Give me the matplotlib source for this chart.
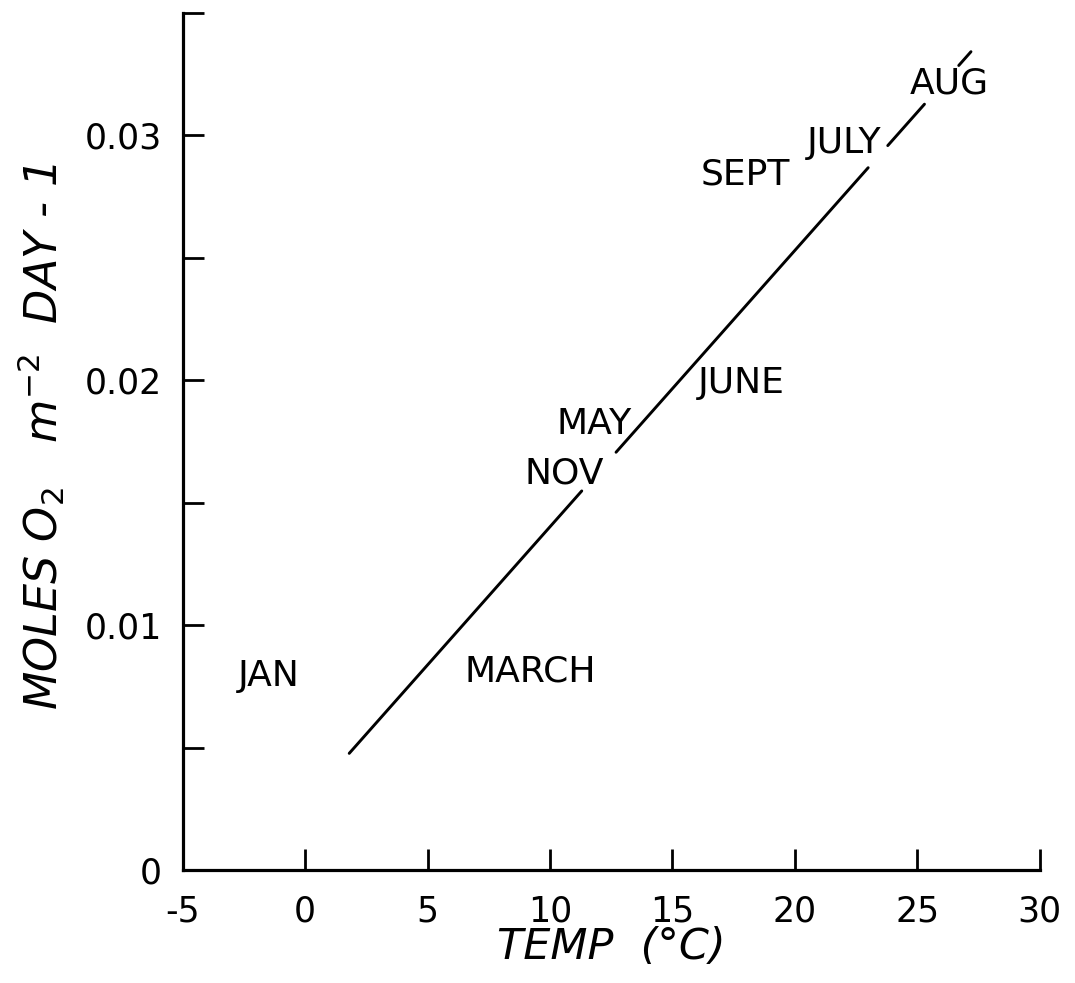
"""Benthic O2 consumption vs. temperature, monthly labels and fitted line."""

import matplotlib
matplotlib.use("Agg")
import matplotlib.pyplot as plt

# ---- data ----
months = ["JAN", "MARCH", "NOV", "MAY", "JUNE", "SEPT", "JULY", "AUG"]
month_temp = [-1.5, 9.2, 10.6, 11.8, 17.8, 18.0, 22.0, 26.3]
month_rate = [0.0079, 0.0081, 0.0162, 0.0182, 0.0199, 0.0284, 0.0297, 0.0321]

# regression line (broken where it runs through labels)
fit_slope = 0.001128
fit_intercept = 0.00273
fit_segments = [(1.8, 11.3), (12.7, 23.0), (23.8, 25.3), (26.7, 27.2)]

x_ticks = [-5, 0, 5, 10, 15, 20, 25, 30]
y_ticks = [0, 0.005, 0.01, 0.015, 0.02, 0.025, 0.03, 0.035]
y_ticklabels = ["0", "", "0.01", "", "0.02", "", "0.03", ""]

plt.rcParams["font.family"] = ["DejaVu Sans"]

fig = plt.figure(figsize=(10.75, 9.83), dpi=100)
ax = fig.add_axes([0.170, 0.115, 0.797, 0.872])

for x0, x1 in fit_segments:
    ax.plot([x0, x1], [fit_intercept + fit_slope * x0, fit_intercept + fit_slope * x1],
            color="black", lw=2.1, solid_capstyle="round")

for name, t, r in zip(months, month_temp, month_rate):
    ax.text(t, r, name, fontsize=26, ha="center", va="center")

ax.set_xlim(-5, 30)
ax.set_ylim(0, 0.035)
ax.set_xticks(x_ticks)
ax.set_xticklabels([str(v) for v in x_ticks])
ax.set_yticks(y_ticks)
ax.set_yticklabels(y_ticklabels)

ax.spines["top"].set_visible(False)
ax.spines["right"].set_visible(False)
for s in ("left", "bottom"):
    ax.spines[s].set_linewidth(2.3)
ax.tick_params(direction="in", length=15, width=2, labelsize=25)
ax.tick_params(axis="x", pad=18)
ax.tick_params(axis="y", pad=15)

ax.set_xlabel("TEMP  (°C)", fontsize=31, style="italic")
ax.set_ylabel("MOLES O$_2$   m$^{-2}$  DAY - 1", fontsize=32, style="italic")
ax.xaxis.label.set_va("center")
ax.yaxis.label.set_va("center")
ax.xaxis.set_label_coords(0.50, -0.090)
ax.yaxis.set_label_coords(-0.165, 0.505)

fig.savefig("out.png", dpi=100)
